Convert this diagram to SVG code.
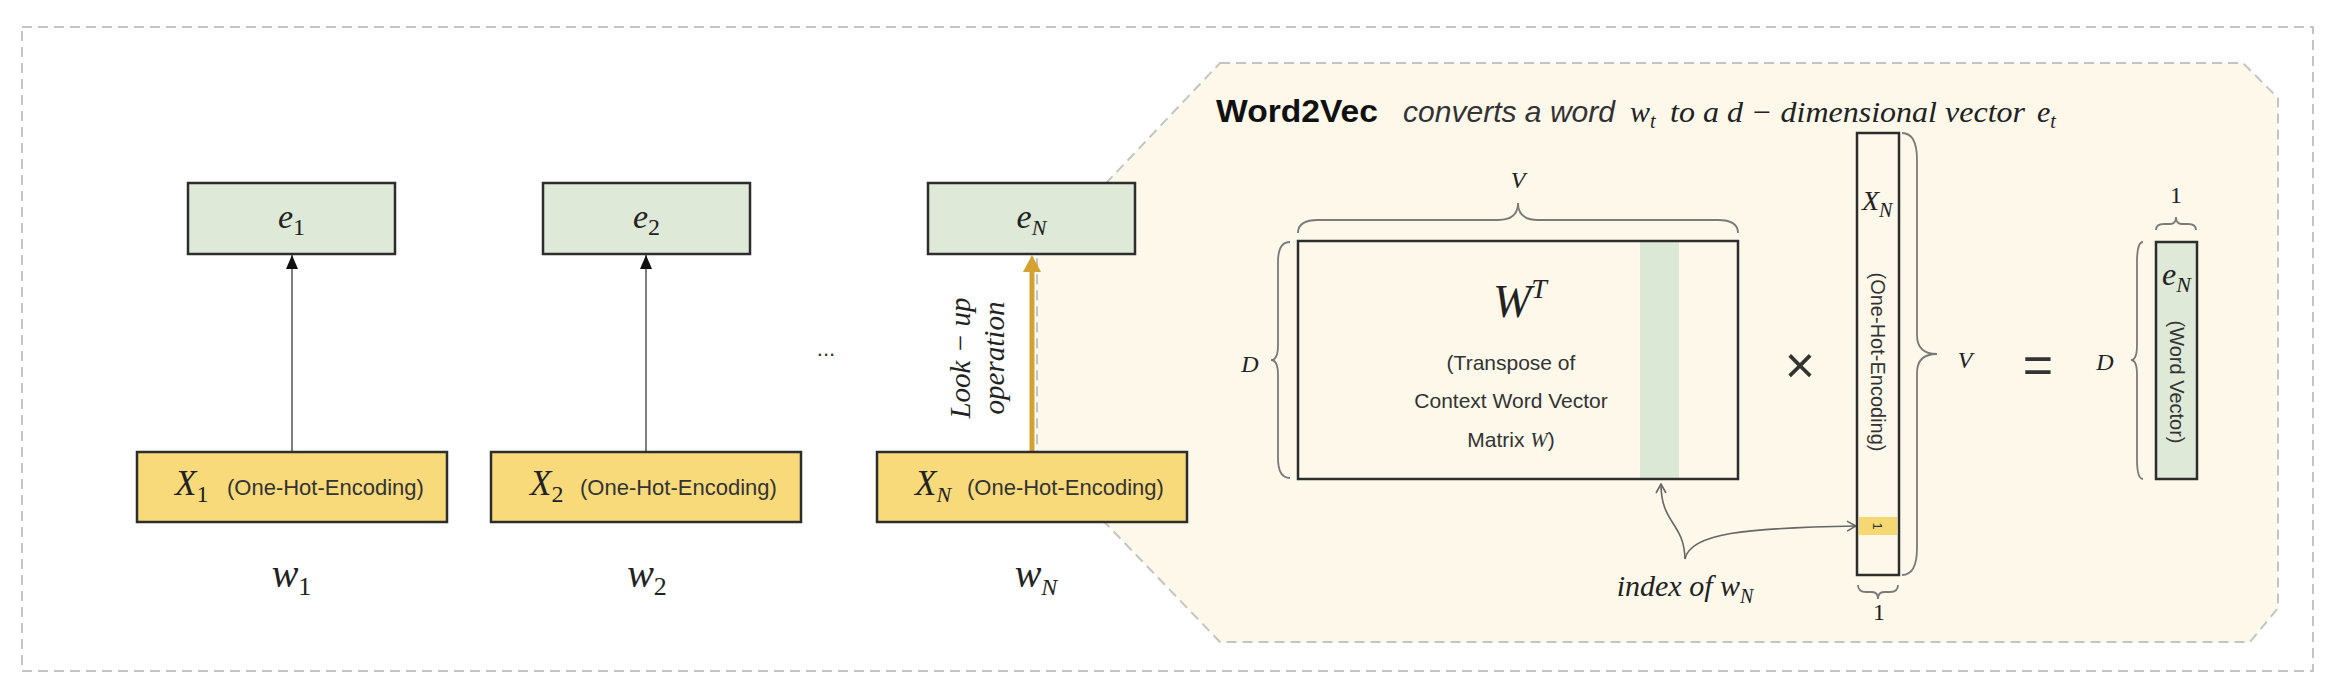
<svg xmlns="http://www.w3.org/2000/svg" width="2348" height="694" viewBox="0 0 2348 694">
<defs>
<style>
.bd{fill:none;stroke:#c4c4c4;stroke-width:2;stroke-dasharray:10 6}
.eb{fill:#dee9d7;stroke:#2d2d2d;stroke-width:2.5}
.xb{fill:#f8da7b;stroke:#2d2d2d;stroke-width:2.5}
.mt{font-family:"Liberation Serif",serif;font-style:italic;fill:#222}
.up{font-style:normal}
.sn{font-family:"Liberation Sans",sans-serif;fill:#333}
.br{fill:none;stroke:#7a7a7a;stroke-width:1.8}
.cn{fill:none;stroke:#555;stroke-width:1.5}
.ix{fill:none;stroke:#666;stroke-width:1.6}
</style>
<marker id="ab" markerUnits="userSpaceOnUse" viewBox="0 0 14 12" refX="14" refY="6" markerWidth="14" markerHeight="12" orient="auto">
<path d="M0,0 L14,6 L0,12 Z" fill="#111"/>
</marker>
<marker id="ag" markerUnits="userSpaceOnUse" viewBox="0 0 17 18" refX="1" refY="9" markerWidth="17" markerHeight="18" orient="auto">
<path d="M0,0 L17,9 L0,18 Z" fill="#d4a230"/>
</marker>
<marker id="ao" markerUnits="userSpaceOnUse" viewBox="0 0 11 12" refX="10" refY="6" markerWidth="11" markerHeight="12" orient="auto">
<path d="M1,1 L10,6 L1,11" fill="none" stroke="#666" stroke-width="1.6"/>
</marker>
</defs>
<rect width="2348" height="694" fill="#ffffff"/>
<rect class="bd" x="22" y="27" width="2291" height="644"/>

<g id="panel">
<path d="M1220,63 L2243,63 L2278,98 L2278,608 L2250,642 L1220,642 L1037,452 L1037,256 Z" fill="#fdf8ea" stroke="#c4c4c4" stroke-width="2" stroke-dasharray="10 6"/>
</g>

<g id="connectors">
<line class="cn" x1="292" y1="452" x2="292" y2="255" marker-end="url(#ab)"/>
<line class="cn" x1="646" y1="452" x2="646" y2="255" marker-end="url(#ab)"/>
<line x1="1032" y1="451" x2="1032" y2="271" stroke="#d4a230" stroke-width="5" marker-end="url(#ag)"/>
<path class="ix" d="M1685,559 C1684,522 1661,524 1661,484" marker-end="url(#ao)"/>
<path class="ix" d="M1685,559 C1690,533 1745,528 1856,526" marker-end="url(#ao)"/>
</g>

<g id="e1"><rect class="eb" x="188" y="183" width="207" height="71"/>
<text class="mt" x="291.5" y="228" font-size="34" text-anchor="middle">e<tspan class="up" font-size="24" dy="7">1</tspan></text></g>
<g id="e2"><rect class="eb" x="543" y="183" width="207" height="71"/>
<text class="mt" x="646.5" y="228" font-size="34" text-anchor="middle">e<tspan class="up" font-size="24" dy="7">2</tspan></text></g>
<g id="eN"><rect class="eb" x="928" y="183" width="207" height="71"/>
<text class="mt" x="1031.5" y="228" font-size="34" text-anchor="middle">e<tspan font-size="22" dy="7">N</tspan></text></g>

<g id="X1"><rect class="xb" x="137" y="452" width="310" height="70"/>
<text class="mt" x="175" y="495" font-size="35">X<tspan class="up" font-size="24" dy="7">1</tspan></text>
<text class="sn" x="227" y="495" font-size="22">(One-Hot-Encoding)</text></g>
<g id="X2"><rect class="xb" x="491" y="452" width="310" height="70"/>
<text class="mt" x="530" y="495" font-size="35">X<tspan class="up" font-size="24" dy="7">2</tspan></text>
<text class="sn" x="580" y="495" font-size="22">(One-Hot-Encoding)</text></g>
<g id="XN"><rect class="xb" x="877" y="452" width="310" height="70"/>
<text class="mt" x="915" y="495" font-size="35">X<tspan font-size="22" dy="7">N</tspan></text>
<text class="sn" x="967" y="495" font-size="22">(One-Hot-Encoding)</text></g>

<g id="words">
<text class="mt" x="291.5" y="587" font-size="40" text-anchor="middle">w<tspan class="up" font-size="26" dy="8">1</tspan></text>
<text class="mt" x="647" y="587" font-size="40" text-anchor="middle">w<tspan class="up" font-size="26" dy="8">2</tspan></text>
<text class="mt" x="1036" y="587" font-size="40" text-anchor="middle">w<tspan font-size="24" dy="8">N</tspan></text>
<text class="sn" x="826" y="356" font-size="22" text-anchor="middle" fill="#555">...</text>
</g>

<g id="lookup-label">
<text class="mt" transform="translate(970,358) rotate(-90)" font-size="29" text-anchor="middle" fill="#333">Look − up</text>
<text class="mt" transform="translate(1004,358) rotate(-90)" font-size="29" text-anchor="middle" fill="#333">operation</text>
</g>

<g id="title">
<text x="1216" y="122" font-family="Liberation Sans, sans-serif" font-weight="bold" font-size="32" fill="#111" textLength="162" lengthAdjust="spacingAndGlyphs">Word2Vec</text>
<text x="1403" y="122" font-family="Liberation Sans, sans-serif" font-style="italic" font-size="30" fill="#333" textLength="212" lengthAdjust="spacingAndGlyphs">converts a word</text>
<text class="mt" x="1630" y="122" font-size="30" fill="#333">w<tspan font-size="20" dy="6">t</tspan></text>
<text class="mt" x="1670" y="122" font-size="30" fill="#333" textLength="355" lengthAdjust="spacingAndGlyphs">to a d − dimensional vector</text>
<text class="mt" x="2037" y="122" font-size="30" fill="#333">e<tspan font-size="20" dy="6">t</tspan></text>
</g>

<g id="matrix">
<rect x="1298" y="241" width="440" height="238" fill="#fdf8ea" stroke="none"/>
<rect x="1640" y="242" width="39" height="236" fill="#dce8d6"/>
<rect x="1298" y="241" width="440" height="238" fill="none" stroke="#2d2d2d" stroke-width="2.5"/>
<text class="mt" x="1493" y="317" font-size="46">W<tspan font-size="28" dy="-19">T</tspan></text>
<text class="sn" x="1511" y="370" font-size="21" text-anchor="middle">(Transpose of</text>
<text class="sn" x="1511" y="408" font-size="21" text-anchor="middle">Context Word Vector</text>
<text class="sn" x="1511" y="447" font-size="21" text-anchor="middle">Matrix <tspan font-family="Liberation Serif, serif" font-style="italic">W</tspan>)</text>
<path class="br" d="M1298,233 Q1298,220 1318,220 L1498,220 Q1518,220 1518,203 Q1518,220 1538,220 L1718,220 Q1738,220 1738,233"/>
<text class="mt" x="1518" y="188" font-size="24" text-anchor="middle">V</text>
<path class="br" d="M1290,242 Q1278,242 1278,262 L1278,345 Q1278,360 1271,360 Q1278,360 1278,375 L1278,458 Q1278,478 1290,478"/>
<text class="mt" x="1250" y="372" font-size="24" text-anchor="middle">D</text>
</g>

<g id="times"><text class="sn" x="1800" y="383" font-size="52" text-anchor="middle" fill="#222">×</text></g>

<g id="onehot-vector">
<rect x="1857" y="133" width="42" height="442" fill="#fdf8ea" stroke="#2d2d2d" stroke-width="2.5"/>
<rect x="1859" y="517" width="38" height="18" fill="#f6d873"/>
<text class="sn" transform="translate(1878,526) rotate(90)" font-size="13" text-anchor="middle" dy="0.35em">1</text>
<text class="mt" x="1862" y="210" font-size="28">X<tspan font-size="20" dy="7">N</tspan></text>
<text class="sn" transform="translate(1878,362) rotate(90)" font-size="20" text-anchor="middle" dy="0.35em" fill="#444">(One-Hot-Encoding)</text>
<path class="br" d="M1902,133 Q1917,133 1917,160 L1917,335 Q1917,354 1937,354 Q1917,354 1917,373 L1917,548 Q1917,575 1902,575"/>
<text class="mt" x="1965" y="368" font-size="24" text-anchor="middle">V</text>
<path class="br" d="M1858,585 Q1858,592 1866,592 L1872,592 Q1878,592 1878,599 Q1878,592 1884,592 L1890,592 Q1898,592 1898,585"/>
<text class="mt up" x="1879" y="620" font-size="24" text-anchor="middle">1</text>
<text class="mt" x="1685" y="596" font-size="30" text-anchor="middle">index of w<tspan font-size="20" dy="7">N</tspan></text>
</g>

<g id="equals"><text class="sn" x="2038" y="383" font-size="52" text-anchor="middle" fill="#222">=</text></g>

<g id="word-vector">
<rect x="2156" y="242" width="41" height="237" fill="#dee9d7" stroke="#2d2d2d" stroke-width="2.5"/>
<text class="mt" x="2162" y="285" font-size="32">e<tspan font-size="22" dy="7">N</tspan></text>
<text class="sn" transform="translate(2177,382) rotate(90)" font-size="20" text-anchor="middle" dy="0.35em" fill="#444">(Word Vector)</text>
<path class="br" d="M2156,230 Q2156,224 2164,224 L2170,224 Q2176,224 2176,217 Q2176,224 2182,224 L2188,224 Q2196,224 2196,230"/>
<text class="mt up" x="2176" y="203" font-size="24" text-anchor="middle">1</text>
<path class="br" d="M2143,242 Q2137,242 2137,262 L2137,345 Q2137,360 2131,360 Q2137,360 2137,375 L2137,459 Q2137,479 2143,479"/>
<text class="mt" x="2105" y="370" font-size="24" text-anchor="middle">D</text>
</g>
</svg>
